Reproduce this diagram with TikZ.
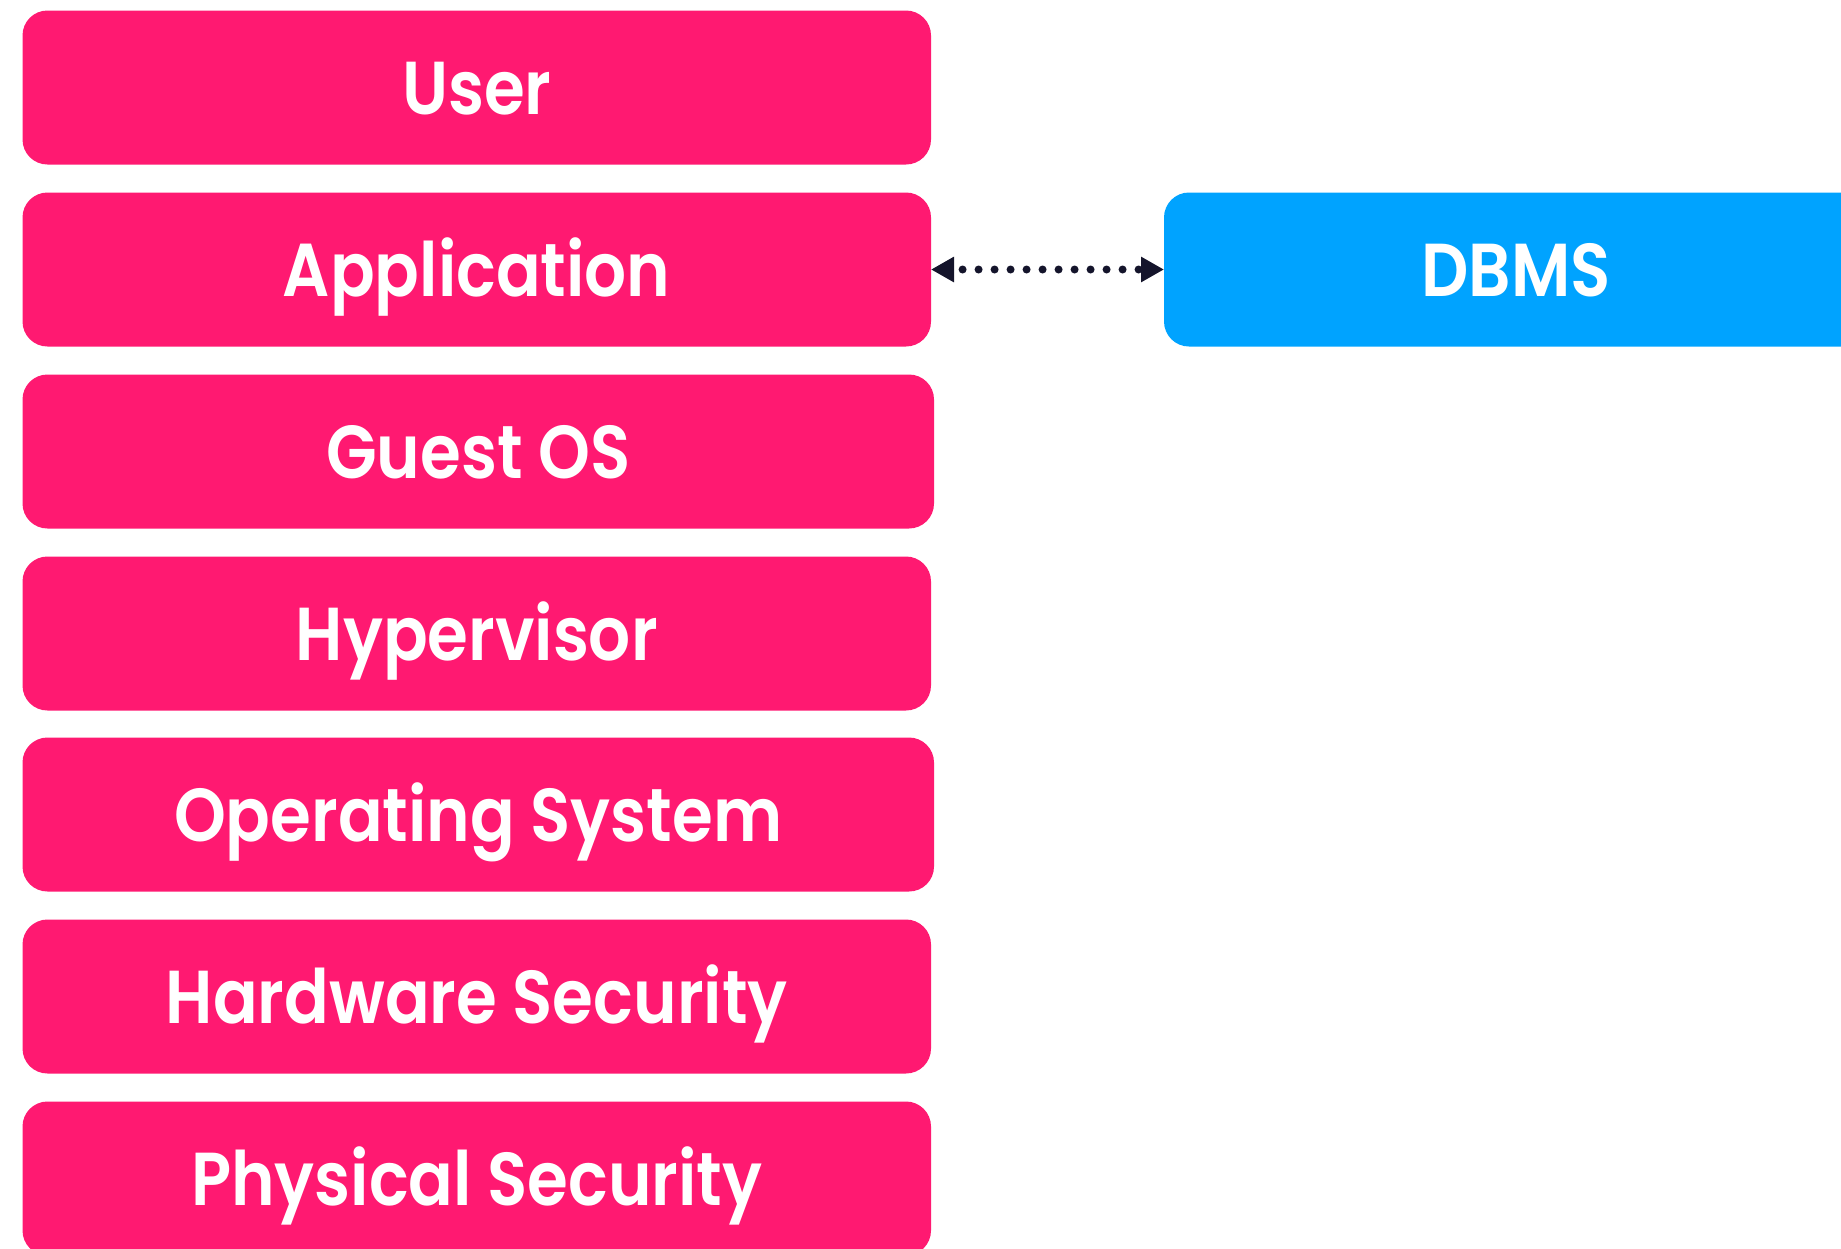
\documentclass[tikz,border=0pt]{standalone}
\usepackage{fontspec}
\setmainfont{Poppins}
\newfontfamily\layerfont{Poppins SemiBold}[FakeStretch=0.88]
\usetikzlibrary{arrows.meta}
\definecolor{layerpink}{HTML}{FF1971}
\definecolor{dbblue}{HTML}{00A3FF}
\definecolor{linknavy}{HTML}{14142B}
\tikzset{
  layerbox/.style={fill=layerpink, draw=none, rounded corners=25pt, inner sep=0pt},
  dbbox/.style={fill=dbblue, draw=none, rounded corners=25pt, inner sep=0pt},
  lbl/.style={text=white, font=\layerfont\fontsize{75}{83}\selectfont, anchor=base, inner sep=0pt},
  link/.style={linknavy, line width=8pt, line cap=round, dash pattern=on 0pt off 16pt, dash phase=6pt,
    {Triangle[length=23pt, width=24pt]}-{Triangle[length=23pt, width=24pt]}}
}
\begin{document}
\begin{tikzpicture}[x=1pt, y=-1pt]
  \useasboundingbox (0,0) rectangle (1841,1248);
  \clip (0,0) rectangle (1841,1248);
  % protection layers, top to bottom
  \path[layerbox] (22.5,10.5) rectangle (931,164.5);
  \coordinate (user) at (476.75,87.5);
  \path[layerbox] (22.5,192.5) rectangle (931,346.5);
  \coordinate (app) at (476.75,269.5);
  \coordinate (app-e) at (931,269.5);
  \path[layerbox] (22.5,374.5) rectangle (934,528.5);
  \coordinate (guest) at (478.25,451.5);
  \path[layerbox] (22.5,556.5) rectangle (931,710.5);
  \coordinate (hyper) at (476.75,633.5);
  \path[layerbox] (22.5,737.5) rectangle (934,891.5);
  \coordinate (os) at (478.25,814.5);
  \path[layerbox] (22.5,919.5) rectangle (931,1073.5);
  \coordinate (hw) at (476.75,996.5);
  \path[layerbox] (22.5,1101.5) rectangle (931,1255.5);
  \coordinate (phys) at (476.75,1178.5);
  % database system box
  \path[dbbox] (1164,192.5) rectangle (1880,346.5);
  \coordinate (dbms) at (1516,269.5);
  \coordinate (dbms-w) at (1164,269.5);
  % labels, baseline half a cap height below the box centre
  \node[lbl] (l-user)  at ([yshift=-26.5pt]user)  {User};
  \node[lbl] (l-app)   at ([yshift=-26.5pt]app)   {Application};
  \node[lbl] (l-guest) at ([yshift=-26.5pt]guest) {Guest OS};
  \node[lbl] (l-hyper) at ([yshift=-26.5pt]hyper) {Hypervisor};
  \node[lbl] (l-os)    at ([yshift=-26.5pt]os)    {Operating System};
  \node[lbl] (l-hw)    at ([yshift=-26.5pt]hw)    {Hardware Security};
  \node[lbl] (l-phys)  at ([yshift=-26.5pt]phys)  {Physical Security};
  \node[lbl] (l-dbms)  at ([yshift=-26.5pt]dbms)  {DBMS};
  % two-way link
  \draw[link] (app-e) -- (dbms-w);
\end{tikzpicture}
\end{document}
